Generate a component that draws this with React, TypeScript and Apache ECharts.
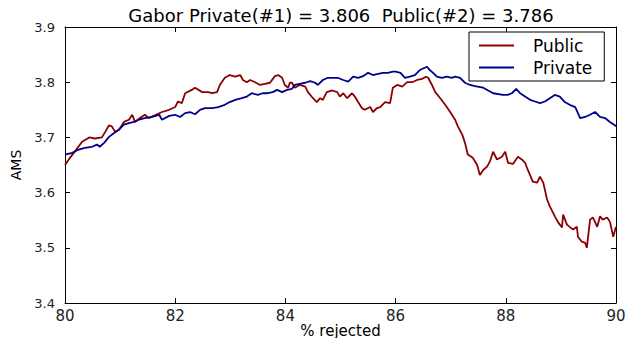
import React, { useEffect, useRef } from "react";
import * as echarts from "echarts";

const titleText = "Gabor Private(#1) = 3.806  Public(#2) = 3.786";
const xTicks = [80, 82, 84, 86, 88, 90];
const yTicks = [3.4, 3.5, 3.6, 3.7, 3.8, 3.9];

const publicData: [number, number][] = [
  [80.0, 3.65], [80.09, 3.663], [80.16, 3.672], [80.31, 3.692], [80.44, 3.7], [80.54, 3.698],
  [80.67, 3.7], [80.73, 3.71], [80.8, 3.722], [80.85, 3.72], [80.91, 3.71], [80.98, 3.714],
  [81.07, 3.728], [81.16, 3.732], [81.22, 3.741], [81.27, 3.728], [81.36, 3.735], [81.45, 3.741],
  [81.52, 3.735], [81.63, 3.74], [81.76, 3.746], [81.89, 3.75], [82.0, 3.755], [82.05, 3.765],
  [82.12, 3.762], [82.18, 3.78], [82.3, 3.786], [82.36, 3.79], [82.49, 3.782], [82.6, 3.782],
  [82.67, 3.78], [82.76, 3.782], [82.81, 3.795], [82.9, 3.808], [82.99, 3.813], [83.09, 3.81],
  [83.18, 3.813], [83.23, 3.804], [83.3, 3.8], [83.36, 3.804], [83.45, 3.8], [83.54, 3.795],
  [83.63, 3.797], [83.72, 3.799], [83.81, 3.811], [83.87, 3.813], [83.94, 3.808], [83.99, 3.795],
  [84.05, 3.79], [84.08, 3.799], [84.12, 3.799], [84.17, 3.79], [84.26, 3.795], [84.36, 3.792],
  [84.41, 3.782], [84.5, 3.771], [84.57, 3.764], [84.63, 3.771], [84.68, 3.768], [84.75, 3.782],
  [84.85, 3.785], [84.94, 3.782], [84.99, 3.774], [85.05, 3.78], [85.12, 3.771], [85.21, 3.78],
  [85.26, 3.774], [85.32, 3.764], [85.39, 3.753], [85.44, 3.75], [85.54, 3.755], [85.59, 3.746],
  [85.66, 3.753], [85.72, 3.755], [85.81, 3.764], [85.9, 3.762], [85.95, 3.79], [86.03, 3.795],
  [86.12, 3.792], [86.21, 3.8], [86.3, 3.8], [86.39, 3.804], [86.48, 3.806], [86.55, 3.81],
  [86.59, 3.808], [86.66, 3.795], [86.72, 3.782], [86.81, 3.771], [86.9, 3.759], [86.99, 3.746],
  [87.08, 3.732], [87.13, 3.72], [87.21, 3.705], [87.26, 3.69], [87.31, 3.669], [87.4, 3.663],
  [87.48, 3.65], [87.53, 3.632], [87.59, 3.641], [87.66, 3.647], [87.71, 3.656], [87.77, 3.674],
  [87.84, 3.66], [87.93, 3.665], [87.99, 3.674], [88.04, 3.654], [88.13, 3.652], [88.22, 3.665],
  [88.29, 3.66], [88.35, 3.654], [88.4, 3.641], [88.49, 3.62], [88.57, 3.618], [88.62, 3.629],
  [88.68, 3.618], [88.75, 3.587], [88.8, 3.575], [88.89, 3.557], [88.95, 3.546], [89.02, 3.537],
  [89.04, 3.56], [89.11, 3.542], [89.17, 3.537], [89.22, 3.533], [89.29, 3.538], [89.31, 3.52],
  [89.38, 3.511], [89.44, 3.509], [89.47, 3.5], [89.53, 3.551], [89.58, 3.555], [89.66, 3.538],
  [89.71, 3.557], [89.76, 3.551], [89.84, 3.555], [89.89, 3.547], [89.95, 3.52], [90.0, 3.538],
];

const privateData: [number, number][] = [
  [80.0, 3.669], [80.13, 3.672], [80.25, 3.678], [80.36, 3.681], [80.49, 3.683], [80.58, 3.687],
  [80.63, 3.683], [80.71, 3.69], [80.8, 3.701], [80.89, 3.708], [80.98, 3.714], [81.07, 3.723],
  [81.16, 3.726], [81.25, 3.728], [81.34, 3.732], [81.45, 3.735], [81.58, 3.737], [81.71, 3.741],
  [81.76, 3.732], [81.89, 3.739], [82.0, 3.741], [82.09, 3.737], [82.18, 3.744], [82.27, 3.746],
  [82.36, 3.742], [82.45, 3.75], [82.54, 3.753], [82.67, 3.753], [82.78, 3.755], [82.9, 3.759],
  [82.99, 3.764], [83.09, 3.768], [83.21, 3.771], [83.3, 3.774], [83.39, 3.78], [83.5, 3.777],
  [83.59, 3.78], [83.68, 3.78], [83.77, 3.782], [83.85, 3.786], [83.94, 3.782], [84.03, 3.786],
  [84.12, 3.788], [84.17, 3.795], [84.26, 3.797], [84.36, 3.799], [84.45, 3.802], [84.54, 3.799],
  [84.59, 3.795], [84.68, 3.804], [84.77, 3.808], [84.86, 3.808], [84.95, 3.808], [85.05, 3.804],
  [85.14, 3.801], [85.23, 3.81], [85.32, 3.808], [85.41, 3.811], [85.5, 3.817], [85.59, 3.813],
  [85.68, 3.815], [85.77, 3.817], [85.86, 3.817], [85.95, 3.819], [86.0, 3.819], [86.09, 3.817],
  [86.17, 3.808], [86.26, 3.81], [86.35, 3.813], [86.44, 3.822], [86.57, 3.828], [86.62, 3.822],
  [86.68, 3.817], [86.75, 3.81], [86.84, 3.808], [86.93, 3.81], [87.02, 3.808], [87.08, 3.81],
  [87.17, 3.808], [87.26, 3.799], [87.35, 3.795], [87.44, 3.793], [87.59, 3.79], [87.77, 3.78],
  [87.95, 3.777], [88.03, 3.777], [88.11, 3.78], [88.19, 3.788], [88.26, 3.78], [88.35, 3.774],
  [88.44, 3.768], [88.53, 3.765], [88.62, 3.762], [88.71, 3.765], [88.8, 3.771], [88.89, 3.777],
  [88.98, 3.774], [89.07, 3.764], [89.16, 3.759], [89.26, 3.755], [89.35, 3.735], [89.44, 3.737],
  [89.53, 3.741], [89.62, 3.746], [89.71, 3.737], [89.8, 3.735], [89.89, 3.728], [89.98, 3.722],
  [90.0, 3.72],
];

const FONT = "DejaVu Sans";

export default function App() {
  const ref = useRef<HTMLDivElement>(null);
  useEffect(() => {
    document.body.style.margin = "0";
    if (!ref.current) return;
    const chart = echarts.init(ref.current, null, { renderer: "svg" });
    const xCommon = {
      type: "value" as const,
      min: xTicks[0],
      max: xTicks[xTicks.length - 1],
      interval: 2,
      splitLine: { show: false },
      axisLine: { show: true, onZero: false, lineStyle: { color: "#000", width: 1 } },
      axisTick: { show: true, inside: true, length: 5, lineStyle: { color: "#000" } },
    };
    const yCommon = {
      type: "value" as const,
      min: yTicks[0],
      max: yTicks[yTicks.length - 1],
      interval: 0.1,
      splitLine: { show: false },
      axisLine: { show: true, onZero: false, lineStyle: { color: "#000", width: 1 } },
      axisTick: { show: true, inside: true, length: 5, lineStyle: { color: "#000" } },
    };
    chart.setOption({
      animation: false,
      backgroundColor: "#fff",
      textStyle: { fontFamily: FONT },
      grid: {
        left: 65,
        right: 13,
        top: 27,
        bottom: 35,
        containLabel: false,
        outerBoundsMode: "none",
      },
      graphic: [
        {
          type: "text",
          x: 341,
          y: 15,
          style: {
            text: titleText,
            fontFamily: FONT,
            fontSize: 18,
            fill: "#000",
            textAlign: "center",
            textVerticalAlign: "middle",
          },
        },
      ],
      legend: {
        orient: "vertical",
        left: 469,
        top: 32,
        data: ["Public", "Private"],
        icon: "rect",
        itemWidth: 35,
        itemHeight: 2,
        itemGap: 5,
        padding: [5, 12, 5, 10],
        borderColor: "#000",
        borderWidth: 1,
        borderRadius: 0,
        backgroundColor: "#fff",
        textStyle: { fontFamily: FONT, fontSize: 17, color: "#000", padding: [0, 0, 0, 14] },
      },
      xAxis: [
        {
          ...xCommon,
          position: "bottom",
          name: "% rejected",
          nameLocation: "middle",
          nameGap: 20,
          nameMoveOverlap: false,
          nameTextStyle: { fontFamily: FONT, fontSize: 15, color: "#000" },
          axisLabel: {
            fontFamily: FONT,
            fontSize: 15,
            color: "#222",
            margin: 5,
            formatter: (v: number) => String(Math.round(v)),
          },
        },
        { ...xCommon, position: "top", axisLabel: { show: false } },
      ],
      yAxis: [
        {
          ...yCommon,
          position: "left",
          name: "AMS",
          nameLocation: "middle",
          nameGap: 42,
          nameMoveOverlap: false,
          nameRotate: 90,
          nameTextStyle: { fontFamily: FONT, fontSize: 14, color: "#000" },
          axisLabel: {
            fontFamily: FONT,
            fontSize: 13,
            color: "#222",
            margin: 10,
            formatter: (v: number) => v.toFixed(1),
          },
        },
        { ...yCommon, position: "right", axisLabel: { show: false } },
      ],
      series: [
        {
          name: "Public",
          type: "line",
          data: publicData,
          showSymbol: false,
          symbol: "none",
          color: "#8b0000",
          lineStyle: { color: "#8b0000", width: 1.8 },
          z: 2,
        },
        {
          name: "Private",
          type: "line",
          data: privateData,
          showSymbol: false,
          symbol: "none",
          color: "#00008b",
          lineStyle: { color: "#00008b", width: 1.8 },
          z: 2,
        },
      ],
    });
    return () => chart.dispose();
  }, []);
  return <div ref={ref} style={{ width: 629, height: 338 }} />;
}
